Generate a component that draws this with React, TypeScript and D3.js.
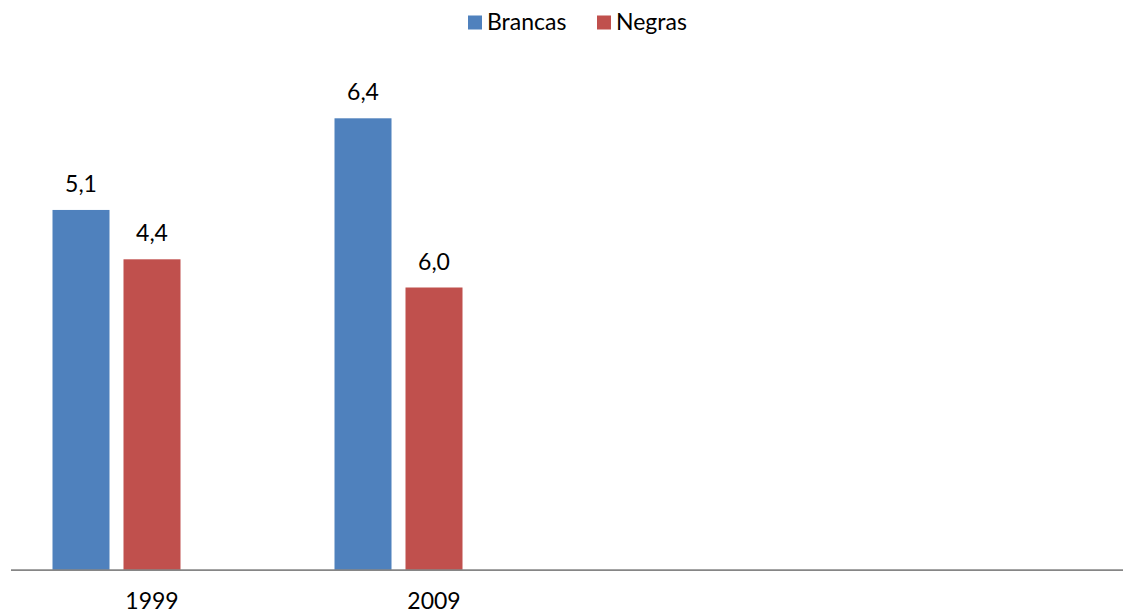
import { useEffect, useRef } from 'react';
import * as d3 from 'd3';

// categories on the x axis (the last two are empty slots in the original)
const categories = ['1999', '2009', ' ', '  '];
const series = ['Brancas', 'Negras', '_empty'];
const colors = ['#4F81BD', '#C0504D', 'none'];

// bar heights as drawn, and the labels printed over them
const brancas = [5.1, 6.4, null, null];
const negras = [4.4, 4.0, null, null];
const brancasLabels = ['5,1', '6,4', '', ''];
const negrasLabels = ['4,4', '6,0', '', ''];

const FONT = 'Lato, "Open Sans", sans-serif';
const FS = 23;

export default function App() {
  const svgRef = useRef<SVGSVGElement | null>(null);

  useEffect(() => {
    const svg = d3.select(svgRef.current);
    svg.selectAll('*').remove();

    const width = 1123, height = 613;
    svg.attr('width', width).attr('height', height);

    const x0 = d3.scaleBand().domain(categories).range([11, 1139]).paddingInner(0).paddingOuter(0);
    const x1 = d3.scaleBand().domain(series).range([41.5, 240.5]).paddingInner(0.197).paddingOuter(0);
    const y = d3.scaleLinear().domain([0, 7]).range([569.5, 76]);

    const rows = categories.map((c, i) => ({
      cat: c,
      vals: [
        { key: 'Brancas', v: brancas[i], label: brancasLabels[i], color: colors[0] },
        { key: 'Negras', v: negras[i], label: negrasLabels[i], color: colors[1] },
      ],
    }));

    const g = svg.append('g');

    const groups = g.selectAll('g.cat').data(rows).join('g')
      .attr('class', 'cat')
      .attr('transform', d => `translate(${x0(d.cat)},0)`);

    groups.selectAll('rect').data(d => d.vals.filter(v => v.v != null)).join('rect')
      .attr('x', d => x1(d.key)!)
      .attr('width', x1.bandwidth())
      .attr('y', d => y(d.v!))
      .attr('height', d => y(0) - y(d.v!) + 0.5)
      .attr('fill', d => d.color);

    groups.selectAll('text.val').data(d => d.vals.filter(v => v.v != null)).join('text')
      .attr('class', 'val')
      .attr('x', d => x1(d.key)! + x1.bandwidth() / 2)
      .attr('y', d => y(d.v!) - 18)
      .attr('text-anchor', 'middle')
      .attr('font-family', FONT)
      .attr('font-size', FS)
      .attr('fill', '#000')
      .text(d => d.label);

    // x axis line and category labels
    g.append('line')
      .attr('x1', 11).attr('x2', width)
      .attr('y1', 570.2).attr('y2', 570.2)
      .attr('stroke', '#868686').attr('stroke-width', 1.8);

    g.selectAll('text.cat').data(categories).join('text')
      .attr('class', 'cat')
      .attr('x', d => x0(d)! + x0.bandwidth() / 2)
      .attr('y', 609)
      .attr('text-anchor', 'middle')
      .attr('font-family', FONT)
      .attr('font-size', FS)
      .attr('fill', '#000')
      .text(d => d.trim());

    // legend
    const legendItems = [
      { name: 'Brancas', color: colors[0], sx: 468, tx: 487 },
      { name: 'Negras', color: colors[1], sx: 597, tx: 616 },
    ];
    const lg = g.append('g');
    lg.selectAll('rect').data(legendItems).join('rect')
      .attr('x', d => d.sx).attr('y', 15.5)
      .attr('width', 14).attr('height', 14)
      .attr('fill', d => d.color);
    lg.selectAll('text').data(legendItems).join('text')
      .attr('x', d => d.tx).attr('y', 30)
      .attr('font-family', FONT)
      .attr('font-size', FS)
      .attr('fill', '#000')
      .text(d => d.name);
  }, []);

  return (
    <div style={{ position: 'absolute', left: 0, top: 0, width: 1123, height: 613, background: '#fff' }}>
      <svg ref={svgRef} style={{ display: 'block' }} />
    </div>
  );
}
